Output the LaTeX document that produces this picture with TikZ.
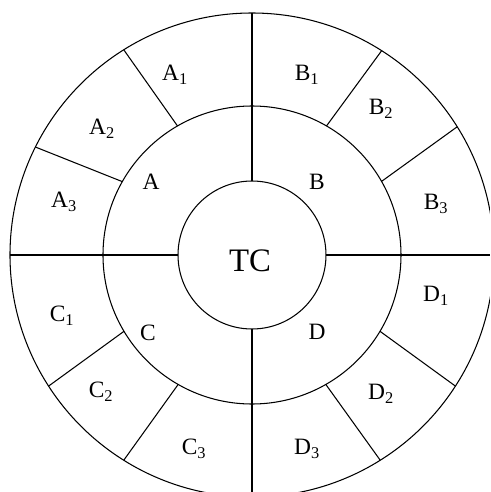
\documentclass[tikz,border=0pt]{standalone}
\usepackage{fontspec}
\setmainfont{Liberation Serif}
\usepackage{tikz}
\usetikzlibrary{positioning}

\begin{document}
\begin{tikzpicture}[x=0.03cm, y=0.03cm, line width=0.9pt,
		part/.style={font=\fontsize{20}{23}\selectfont, inner sep=0pt},
		core/.style={font=\fontsize{28}{31}\selectfont, inner sep=0pt}]
			\useasboundingbox (-252,-237) rectangle (238,255);
			\clip (-252,-237) rectangle (238,255);
			% rings
			\draw (0,0) circle (242);
			\draw (0,0) circle (149);
			\draw (0,0) circle (74);
			% quadrant lines
			\foreach \a/\r in {0/260,90/242,180/242,270/260}
				\draw (\a:74) -- (\a:\r);
			% outer ring cuts
			\draw (120:149) -- (122:242);
			\draw (150.5:149) -- (153.5:242);
			\draw (60:149) -- (57.6:242);
			\draw (29.6:149) -- (32:242);
			\draw (210.8:149) -- (212.8:242);
			\draw (240.3:149) -- (238:242);
			\draw (299.7:149) -- (302:242);
			\draw (329.2:149) -- (327.2:242);
			
			\node (TC) [core] at (-2,-6) {TC};
			\node (A) [part] at (-101,73) {A};
			\node (B) [part] at (65,73) {B};
			\node (C) [part] at (-104,-78) {C};
			\node (D) [part] at (65,-77) {D};
			\node (A1) [part] at (-77,180) {A\textsubscript{1}};
			\node (A2) [part] at (-150,126) {A\textsubscript{2}};
			\node (A3) [part] at (-188,53) {A\textsubscript{3}};
			\node (B1) [part] at (55,180) {B\textsubscript{1}};
			\node (B2) [part] at (129,146) {B\textsubscript{2}};
			\node (B3) [part] at (184,51) {B\textsubscript{3}};
			\node (C1) [part] at (-190,-61) {C\textsubscript{1}};
			\node (C2) [part] at (-151,-137) {C\textsubscript{2}};
			\node (C3) [part] at (-58,-194) {C\textsubscript{3}};
			\node (D1) [part] at (184,-41) {D\textsubscript{1}};
			\node (D2) [part] at (129,-139) {D\textsubscript{2}};
			\node (D3) [part] at (55,-194) {D\textsubscript{3}};
\end{tikzpicture}
\end{document}
